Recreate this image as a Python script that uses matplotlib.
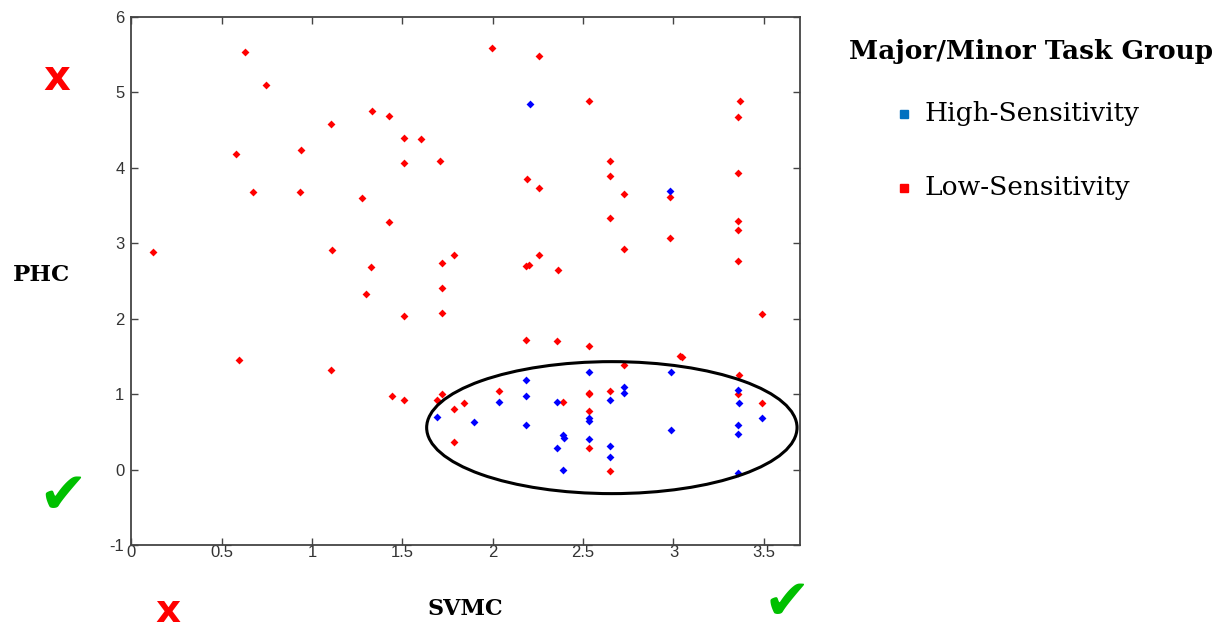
import matplotlib
matplotlib.use("Agg")
import matplotlib.pyplot as plt
from matplotlib.patches import Ellipse
from matplotlib.lines import Line2D

plt.rcParams["axes.unicode_minus"] = False

# SVMC / PHC values
high_x = [2.205, 2.981, 1.690, 1.896, 2.531, 2.984, 2.183, 2.183, 2.036, 2.353,
          2.647, 2.728, 2.728, 3.356, 3.362, 2.531, 2.531, 3.491, 2.183, 2.984,
          3.356, 3.356, 2.386, 2.395, 2.531, 2.353, 2.647, 2.647, 2.386, 3.356]
high_y = [4.85, 3.70, 0.70, 0.63, 1.29, 1.29, 1.19, 0.98, 0.90, 0.90,
          0.92, 1.09, 1.02, 1.05, 0.88, 0.69, 0.65, 0.69, 0.59, 0.53,
          0.59, 0.47, 0.46, 0.42, 0.41, 0.28, 0.31, 0.16, 0.00, -0.05]

low_x = [0.627, 0.747, 1.102, 1.332, 1.428, 1.511, 1.605, 0.577, 0.940, 1.511,
         1.706, 0.671, 0.933, 1.275, 1.428, 0.117, 1.111, 1.325, 1.721, 1.784,
         1.995, 2.257, 2.533, 3.366, 3.356, 2.649, 2.649, 2.191, 2.257, 2.725,
         2.981, 3.356, 2.649, 3.356, 3.356, 2.981, 2.725, 2.257, 2.183, 2.200,
         2.360, 3.356, 3.490, 1.299, 1.721, 1.511, 1.721, 0.594, 1.102, 1.443,
         1.511, 1.690, 1.721, 1.784, 1.843, 1.784, 2.183, 2.353, 2.531, 3.034,
         3.045, 2.728, 3.362, 2.036, 2.386, 2.531, 2.531, 2.647, 3.356, 3.491,
         2.531, 2.531, 2.647]
low_y = [5.54, 5.10, 4.58, 4.75, 4.69, 4.40, 4.38, 4.18, 4.24, 4.06,
         4.09, 3.68, 3.68, 3.60, 3.28, 2.89, 2.91, 2.68, 2.74, 2.84,
         5.59, 5.49, 4.89, 4.89, 4.67, 4.09, 3.89, 3.85, 3.74, 3.66,
         3.62, 3.93, 3.33, 3.29, 3.17, 3.07, 2.93, 2.84, 2.70, 2.71,
         2.64, 2.76, 2.06, 2.33, 2.41, 2.04, 2.08, 1.45, 1.32, 0.98,
         0.92, 0.92, 1.00, 0.80, 0.88, 0.36, 1.72, 1.70, 1.64, 1.51,
         1.49, 1.39, 1.25, 1.04, 0.90, 1.02, 1.00, 1.04, 1.00, 0.88,
         0.78, 0.28, -0.02]

x_ticks = [0, 0.5, 1, 1.5, 2, 2.5, 3, 3.5]
x_ticklabels = ["0", "0.5", "1", "1.5", "2", "2.5", "3", "3.5"]
y_ticks = [-1, 0, 1, 2, 3, 4, 5, 6]

group_title = "Major/Minor Task Group"
group_labels = ["High-Sensitivity", "Low-Sensitivity"]
group_colors = ["#0070C0", "#FF0000"]

fig = plt.figure(figsize=(12.25, 6.32), dpi=100)
ax = fig.add_axes([0.1073, 0.1377, 0.5457, 0.8353])

ax.scatter(low_x, low_y, marker="D", s=16, color="#FF0000", linewidths=0, zorder=3)
ax.scatter(high_x, high_y, marker="D", s=16, color="#0000FF", linewidths=0, zorder=4)

# circled cluster
ax.add_patch(Ellipse((2.659, 0.556), 2.05, 1.75, fill=False, edgecolor="black",
                     linewidth=2.2, zorder=5))

ax.set_xlim(0, 3.7)
ax.set_ylim(-1, 6)
ax.set_xticks(x_ticks)
ax.set_xticklabels(x_ticklabels)
ax.set_yticks(y_ticks)
ax.tick_params(direction="in", top=True, right=True, length=5, width=1,
               color="#444444", labelcolor="#333333", labelsize=12)
ax.tick_params(axis="x", pad=0)
ax.tick_params(axis="y", pad=5)
for lab in ax.get_xticklabels() + ax.get_yticklabels():
    lab.set_family("Liberation Sans")
for sp in ax.spines.values():
    sp.set_color("#444444")
    sp.set_linewidth(1.3)

serif = "DejaVu Serif"
fig.text(41 / 1225, 1 - 275 / 632, "PHC", family=serif, weight="bold",
         fontsize=16.5, ha="center", va="center")
fig.text(465 / 1225, 1 - 609 / 632, "SVMC", family=serif, weight="bold",
         fontsize=16, ha="center", va="center")

# legend block
fig.text(1031 / 1225, 1 - 52 / 632, group_title, family=serif, weight="bold",
         fontsize=19, ha="center", va="center")
for i, (lab, col) in enumerate(zip(group_labels, group_colors)):
    yy = 1 - (114 + 74 * i) / 632
    fig.add_artist(Line2D([904 / 1225], [yy], transform=fig.transFigure,
                          marker="s", markersize=5.5, color=col, linestyle="none"))
    fig.text(925 / 1225, yy, lab, family=serif, fontsize=19,
             ha="left", va="center")

# wrong / right marks
sym = ["DejaVu Sans"]
fig.text(57 / 1225, 1 - 78 / 632, "x", family=sym, weight="bold", color="#FF0000",
         fontsize=30, ha="center", va="center")
fig.text(168 / 1225, 1 - 611 / 632, "x", family=sym, weight="bold", color="#FF0000",
         fontsize=28, ha="center", va="center")
fig.text(63 / 1225, 1 - 496 / 632, "\u2714", family=sym, color="#00C000",
         fontsize=42, ha="center", va="center")
fig.text(787 / 1225, 1 - 604 / 632, "\u2714", family=sym, color="#00C000",
         fontsize=40, ha="center", va="center")

fig.savefig("out.png", dpi=100)
